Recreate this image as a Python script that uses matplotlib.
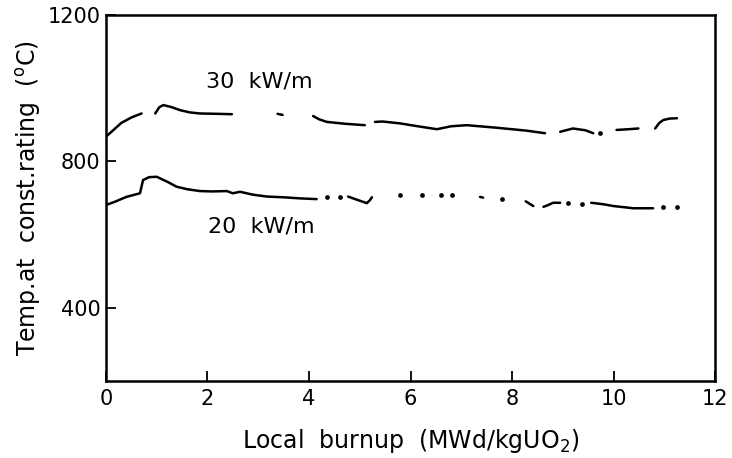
import numpy as np
import matplotlib
matplotlib.use("Agg")
from matplotlib import pyplot as plt

plt.rcParams['font.family'] = ['DejaVu Sans']

nan = np.nan

# 30 kW/m, traced piecewise (nan = gap in the original trace)
burnup_30 = [0, 0.1, 0.3, 0.5, 0.7, nan,
             0.97, 1.05, 1.13, 1.3, 1.46, 1.65, 1.85, 2.2, 2.48, nan,
             3.38, 3.48, nan,
             4.08, 4.2, 4.35, 4.7, 5.10, nan,
             5.30, 5.45, 5.79, 6.1, 6.52, 6.8, 7.11, 7.7, 8.29, 8.65, nan,
             8.95, 9.2, 9.45, 9.60, nan,
             10.06, 10.3, 10.49, nan,
             10.82, 10.9, 10.98, 11.1, 11.25]
temp_30 = [868, 880, 905, 920, 931, nan,
           931, 948, 954, 948, 940, 934, 931, 930, 929, nan,
           930, 927, nan,
           924, 915, 908, 903, 899, nan,
           908, 909, 904, 897, 888, 896, 899, 892, 884, 877, nan,
           881, 890, 885, 877, nan,
           886, 888, 890, nan,
           890, 905, 913, 917, 918]
dots_x_30 = [9.73]
dots_y_30 = [878]

# 20 kW/m
burnup_20 = [0.0, 0.18, 0.4, 0.67, 0.73, 0.85, 1.0, 1.2, 1.39, 1.6, 1.85, 2.1,
             2.38, 2.5, 2.64, 2.9, 3.17, 3.5, 3.82, 4.15, nan,
             4.77, 4.95, 5.14, 5.2, 5.24, nan,
             7.37, 7.43, nan,
             8.27, 8.35, 8.42, nan,
             8.62, 8.70, 8.81, 8.95, nan,
             9.56, 9.8, 10.0, 10.2, 10.39, 10.6, 10.78]
temp_20 = [681, 690, 703, 713, 749, 757, 758, 745, 731, 724, 719, 718,
           719, 713, 717, 709, 704, 702, 699, 697, nan,
           704, 695, 686, 694, 702, nan,
           703, 701, nan,
           691, 684, 678, nan,
           676, 680, 687, 687, nan,
           687, 683, 678, 675, 672, 672, 672]
dots_x_20 = [4.35, 4.61, 5.79, 6.22, 6.61, 6.81, 7.80, 9.11, 9.37, 10.98, 11.25]
dots_y_20 = [704, 704, 708, 708, 708, 708, 697, 687, 684, 675, 675]

fig = plt.figure(figsize=(7.32, 4.58), dpi=100)
ax = fig.add_axes([0.1448, 0.1681, 0.832, 0.7991])

ax.plot(burnup_30, temp_30, color='black', lw=1.8, solid_capstyle='round')
ax.plot(burnup_20, temp_20, color='black', lw=1.8, solid_capstyle='round')
ax.plot(dots_x_30, dots_y_30, 'o', color='black', ms=2.4)
ax.plot(dots_x_20, dots_y_20, 'o', color='black', ms=2.4)

ax.text(3.03, 1017, '30  kW/m', ha='center', va='center', fontsize=16)
ax.text(3.07, 621, '20  kW/m', ha='center', va='center', fontsize=16)

ax.set_xlim(0, 12)
ax.set_ylim(200, 1200)
ax.set_xticks(range(0, 13, 2))
ax.set_yticks([400, 800, 1200])
ax.tick_params(direction='in', length=7, width=1.3, labelsize=15, pad=4)
ax.tick_params(axis='x', pad=6)
for s in ax.spines.values():
    s.set_linewidth(1.8)

ax.set_xlabel('Local  burnup  (MWd/kgUO$_2$)', fontsize=17, labelpad=13)
ax.set_ylabel('Temp.at  const.rating  ($^{\\rm o}$C)', fontsize=17, labelpad=3)

fig.savefig('out.png', dpi=100)
